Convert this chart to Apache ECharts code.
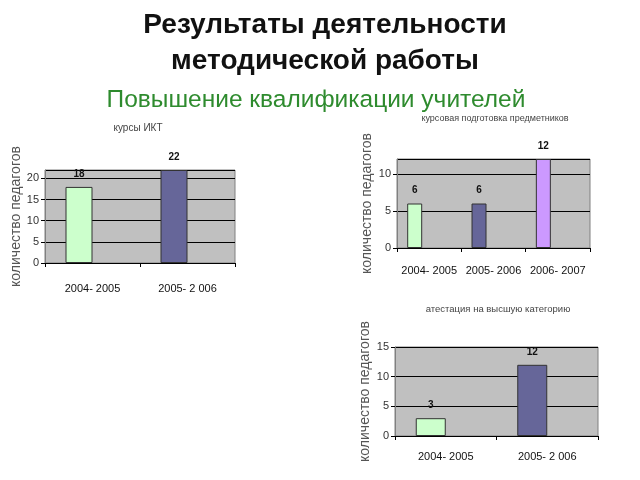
<!DOCTYPE html>
<html><head><meta charset="utf-8">
<script src="https://cdn.jsdelivr.net/npm/echarts@6/dist/echarts.min.js"></script>
<style>html,body{margin:0;padding:0;background:#fff}#c{width:640px;height:480px}</style>
</head><body><div id="c"></div>
<script>
const cats1 = ['2004- 2005', '2005- 2 006'];
const vals1 = [18, 22];
const cats2 = ['2004- 2005', '2005- 2006', '2006- 2007'];
const vals2 = [6, 6, 12];
const cats3 = ['2004- 2005', '2005- 2 006'];
const vals3 = [3, 12];
const barColors = ['#ccffcc', '#666699', '#cc99ff'];
const chartTitles = ['курсы ИКТ', 'курсовая подготовка предметников', 'атестация на высшую категорию'];
const yName = 'количество педагогов';

const chart = echarts.init(document.getElementById('c'));
const font = 'Liberation Sans';
function xAx(i, cats, margin) {
  return {gridIndex: i, type: 'category', data: cats,
    axisLine: {lineStyle: {color: '#000', width: 1}},
    axisTick: {show: true, length: 4, lineStyle: {color: '#000'}},
    axisLabel: {interval: 0, color: '#111', fontSize: 11, fontFamily: 'Liberation Sans Narrow, Liberation Sans', margin: margin}};
}
function yAx(i, max, gap, showMax) {
  return {gridIndex: i, type: 'value', min: 0, max: max, interval: 5,
    name: yName, nameLocation: 'middle', nameRotate: 90, nameGap: gap,
    nameTextStyle: {color: '#555', fontSize: 14, fontFamily: font},
    axisLine: {show: true, lineStyle: {color: '#808080'}},
    axisTick: {show: true, length: 4, lineStyle: {color: '#000'}},
    axisLabel: {color: '#333', fontSize: 11, fontFamily: font, margin: 6, showMaxLabel: showMax},
    splitLine: {show: true, lineStyle: {color: '#000', width: 1.2}}};
}
function ser(i, vals, bw, gap) {
  return {type: 'bar', xAxisIndex: i, yAxisIndex: i, barWidth: bw, barGap: gap,
    data: vals.map((v, k) => ({value: v, itemStyle: {color: barColors[k]}})),
    itemStyle: {borderColor: '#333', borderWidth: 1},
    label: {show: true, position: 'top', distance: 8, color: '#111', fontSize: 10, fontWeight: 'bold', fontFamily: font}};
}
function spacer(i, n, bw, gap) {
  return {type: 'bar', xAxisIndex: i, yAxisIndex: i, barWidth: bw, barGap: gap, silent: true,
    data: new Array(n).fill('-')};
}
chart.setOption({
  animation: false,
  title: [
    {text: 'Результаты деятельности\nметодической работы', left: 320, top: 2, textAlign: 'center',
     textStyle: {fontSize: 28, fontWeight: 'bold', color: '#111', fontFamily: font, lineHeight: 36}},
    {text: 'Повышение квалификации учителей', left: 311, top: 83, textAlign: 'center',
     textStyle: {fontSize: 24.5, fontWeight: 'normal', color: '#2e8b2e', fontFamily: font}},
    {text: chartTitles[0], left: 133, top: 118, textAlign: 'center', textStyle: {fontSize: 10, fontWeight: 'normal', color: '#444', fontFamily: font}},
    {text: chartTitles[1], left: 490, top: 109, textAlign: 'center', textStyle: {fontSize: 9, fontWeight: 'normal', color: '#444', fontFamily: font}},
    {text: chartTitles[2], left: 493, top: 299, textAlign: 'center', textStyle: {fontSize: 9.5, fontWeight: 'normal', color: '#444', fontFamily: font}}
  ],
  grid: [
    {left: 45, top: 170, width: 190, height: 93, show: true, backgroundColor: '#c0c0c0', borderColor: '#808080', borderWidth: 1},
    {left: 397, top: 159, width: 193, height: 89, show: true, backgroundColor: '#c0c0c0', borderColor: '#808080', borderWidth: 1},
    {left: 395, top: 347, width: 203, height: 89, show: true, backgroundColor: '#c0c0c0', borderColor: '#808080', borderWidth: 1}
  ],
  xAxis: [xAx(0, cats1, 20), xAx(1, cats2, 17), xAx(2, cats3, 15)],
  yAxis: [yAx(0, 22, 22, false), yAx(1, 12, 23, false), yAx(2, 15, 23, true)],
  series: [ser(0, vals1, 27, '0%'), spacer(0, 2, 27, '0%'),
           ser(1, vals2, 15, '93%'), spacer(1, 3, 15, '93%'),
           ser(2, vals3, 30, '0%'), spacer(2, 2, 30, '0%')]
});
</script></body></html>
